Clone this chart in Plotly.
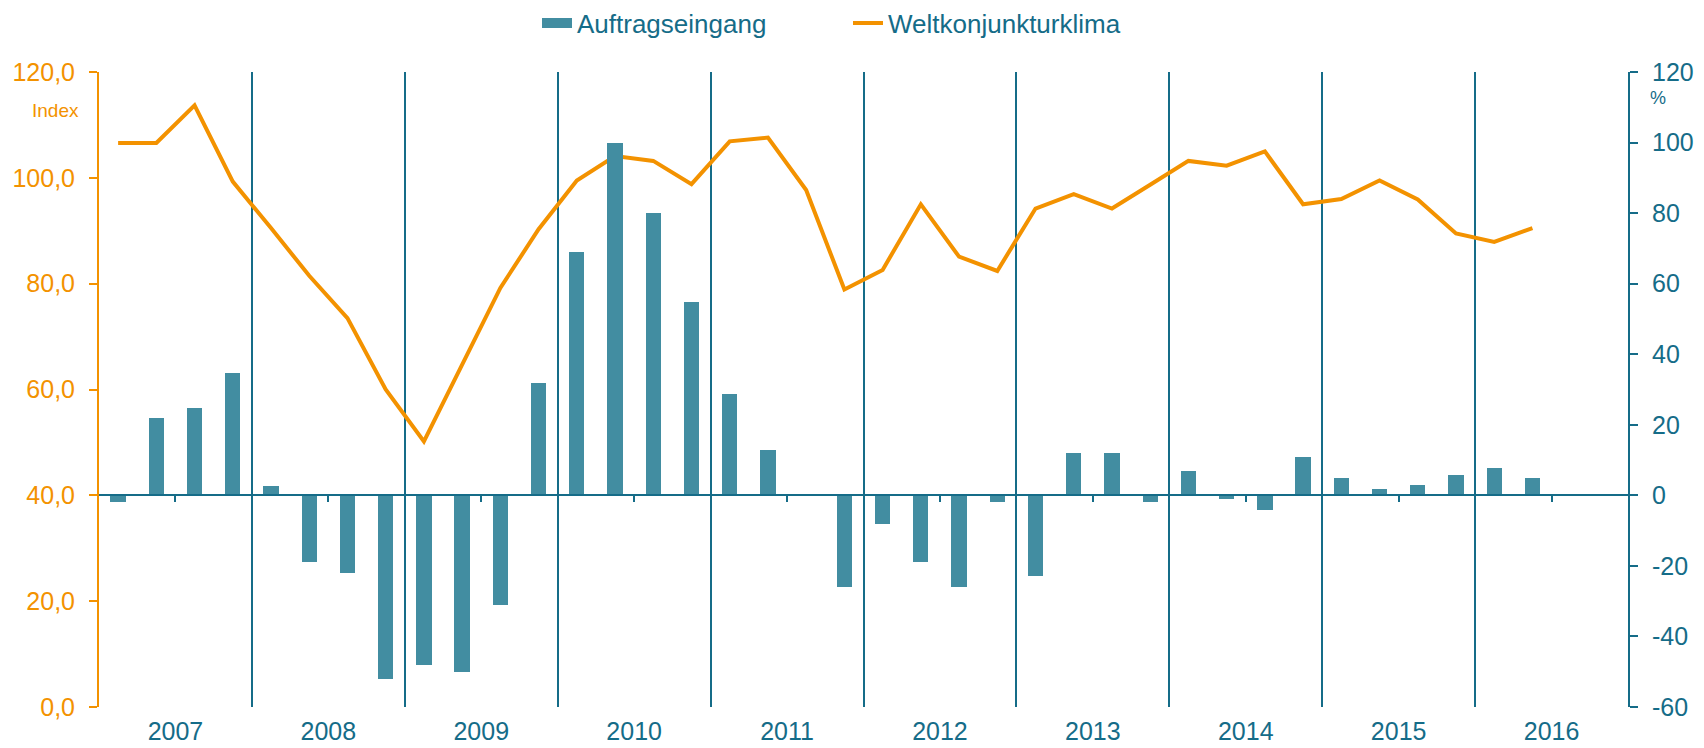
import plotly.graph_objects as go

years = [2007, 2008, 2009, 2010, 2011, 2012, 2013, 2014, 2015, 2016]
quarters = [1, 2, 3, 4]

# Auftragseingang, % (right axis), quarterly 2007Q1 .. 2016Q2
auftragseingang = [
    -2.0, 21.8, 24.7, 34.8,      # 2007
    2.7, -19.0, -22.0, -52.1,    # 2008
    -48.1, -50.0, -31.1, 31.8,   # 2009
    68.9, 99.9, 80.1, 54.9,      # 2010
    28.8, 12.9, 0.0, -26.0,      # 2011
    -8.0, -19.0, -26.0, -2.0,    # 2012
    -23.0, 12.0, 12.0, -2.0,     # 2013
    6.8, -1.1, -4.1, 10.9,       # 2014
    4.9, 1.8, 3.0, 5.8,          # 2015
    7.7, 4.9,                    # 2016
]

# Weltkonjunkturklima, Index (left axis)
weltkonjunkturklima = [
    106.6, 106.6, 113.7, 99.3,   # 2007
    90.5, 81.5, 73.5, 60.0,      # 2008
    50.2, 64.7, 79.2, 90.3,      # 2009
    99.5, 104.1, 103.2, 98.8,    # 2010
    106.9, 107.6, 97.7, 78.9,    # 2011
    82.6, 95.0, 85.1, 82.4,      # 2012
    94.2, 96.9, 94.2, 98.7,      # 2013
    103.2, 102.3, 105.0, 95.0,   # 2014
    96.0, 99.5, 95.9, 89.5,      # 2015
    87.9, 90.5,                  # 2016
]

left_ticks = [0, 20, 40, 60, 80, 100, 120]
left_ticktext = ["0,0", "20,0", "40,0", "60,0", "80,0", "100,0", "120,0"]
right_ticks = [-60, -40, -20, 0, 20, 40, 60, 80, 100, 120]
right_ticktext = ["-60", "-40", "-20", "0", "20", "40", "60", "80", "100", "120"]
year_labels = [str(y) for y in years]

ORANGE = "#F39200"
TEAL = "#156C88"
BAR = "#428DA1"
FONT = "Liberation Sans, Arial, sans-serif"

# quarter positions on a continuous year axis
xq = []
for y in years:
    for q in quarters:
        xq.append(y + (q - 0.5) / 4)
x_bar = xq[:len(auftragseingang)]
x_line = xq[:len(weltkonjunkturklima)]
year_centres = [y + 0.5 for y in years]
year_bounds = [y for y in years[1:]]

OFF = 8  # page body margin offset
W, H = 1704 - OFF, 748 - OFF
# target plot area in page pixels: x 99..1628, y 72..707
pl, pt = 99 - OFF, 72 - OFF
pr, pb = W - (1628 - OFF), H - (707 - OFF)
pw, ph = W - pl - pr, H - pt - pb


def px_paper(x, y):
    return (x - OFF - pl) / pw, 1 - (y - OFF - pt) / ph


fig = go.Figure()

fig.add_trace(go.Bar(
    x=x_bar, y=auftragseingang, yaxis="y2", width=0.1,
    marker=dict(color=BAR, line=dict(width=0)),
    name="Auftragseingang", showlegend=False,
))
# legend proxy for the bar series (wide rectangle)
fig.add_trace(go.Scatter(
    x=[None], y=[None], mode="lines", yaxis="y2",
    line=dict(color=BAR, width=14), name="Auftragseingang",
))
fig.add_trace(go.Scatter(
    x=x_line, y=weltkonjunkturklima, mode="lines",
    line=dict(color=ORANGE, width=4), name="Weltkonjunkturklima",
))
# carrier for the zero-line axis with mid-year ticks
fig.add_trace(go.Scatter(
    x=[None], y=[None], xaxis="x2", yaxis="y2", showlegend=False,
))

ix, iy = px_paper(55, 110)
px_, py_ = px_paper(1658, 98)

fig.update_layout(
    width=W, height=H,
    margin=dict(l=pl, r=pr, t=pt, b=pb, autoexpand=False),
    paper_bgcolor="white", plot_bgcolor="white",
    font=dict(family=FONT, size=25, color=TEAL),
    showlegend=True,
    legend=dict(orientation="h", xref="container", yref="container",
                x=(537 - OFF) / W, y=1 - (23 - OFF) / H, xanchor="left", yanchor="middle",
                font=dict(size=26, color=TEAL), entrywidth=266,
                bgcolor="rgba(0,0,0,0)"),
    bargap=0,
    xaxis=dict(
        range=[2007, 2017], showline=False, zeroline=False, automargin=False,
        tickmode="array", tickvals=year_centres, ticktext=year_labels,
        ticks="", showgrid=False, ticklabelstandoff=7,
        tickfont=dict(size=25, color=TEAL),
        minor=dict(tickmode="array", tickvals=year_bounds, showgrid=True,
                   gridcolor=TEAL, gridwidth=2, ticks=""),
    ),
    xaxis2=dict(
        overlaying="x", anchor="free", position=1/3, range=[2007, 2017],
        showline=True, linecolor=TEAL, linewidth=2, zeroline=False, automargin=False,
        tickmode="array", tickvals=year_centres, ticks="outside", ticklen=6,
        tickwidth=2, tickcolor=TEAL, showticklabels=False, showgrid=False,
    ),
    yaxis=dict(
        range=[0, 120], side="left", showline=True, linecolor=ORANGE, linewidth=2,
        ticks="outside", ticklen=8, tickwidth=2, tickcolor=ORANGE, automargin=False,
        tickmode="array", tickvals=left_ticks, ticktext=left_ticktext,
        tickfont=dict(size=25, color=ORANGE), showgrid=False, zeroline=False,
        ticklabelstandoff=9,
    ),
    yaxis2=dict(
        range=[-60, 120], side="right", overlaying="y", showline=True, automargin=False,
        linecolor=TEAL, linewidth=2, ticks="outside", ticklen=8, tickwidth=2,
        tickcolor=TEAL, tickmode="array", tickvals=right_ticks, ticktext=right_ticktext,
        tickfont=dict(size=25, color=TEAL), showgrid=False, zeroline=False,
        ticklabelstandoff=9,
    ),
    annotations=[
        dict(text="Index", x=ix, y=iy, xref="paper", yref="paper", showarrow=False,
             xanchor="center", yanchor="middle",
             font=dict(size=19, color=ORANGE)),
        dict(text="%", x=px_, y=py_, xref="paper", yref="paper", showarrow=False,
             xanchor="center", yanchor="middle",
             font=dict(size=18, color=TEAL)),
    ],
)

fig.write_html("out.html")
